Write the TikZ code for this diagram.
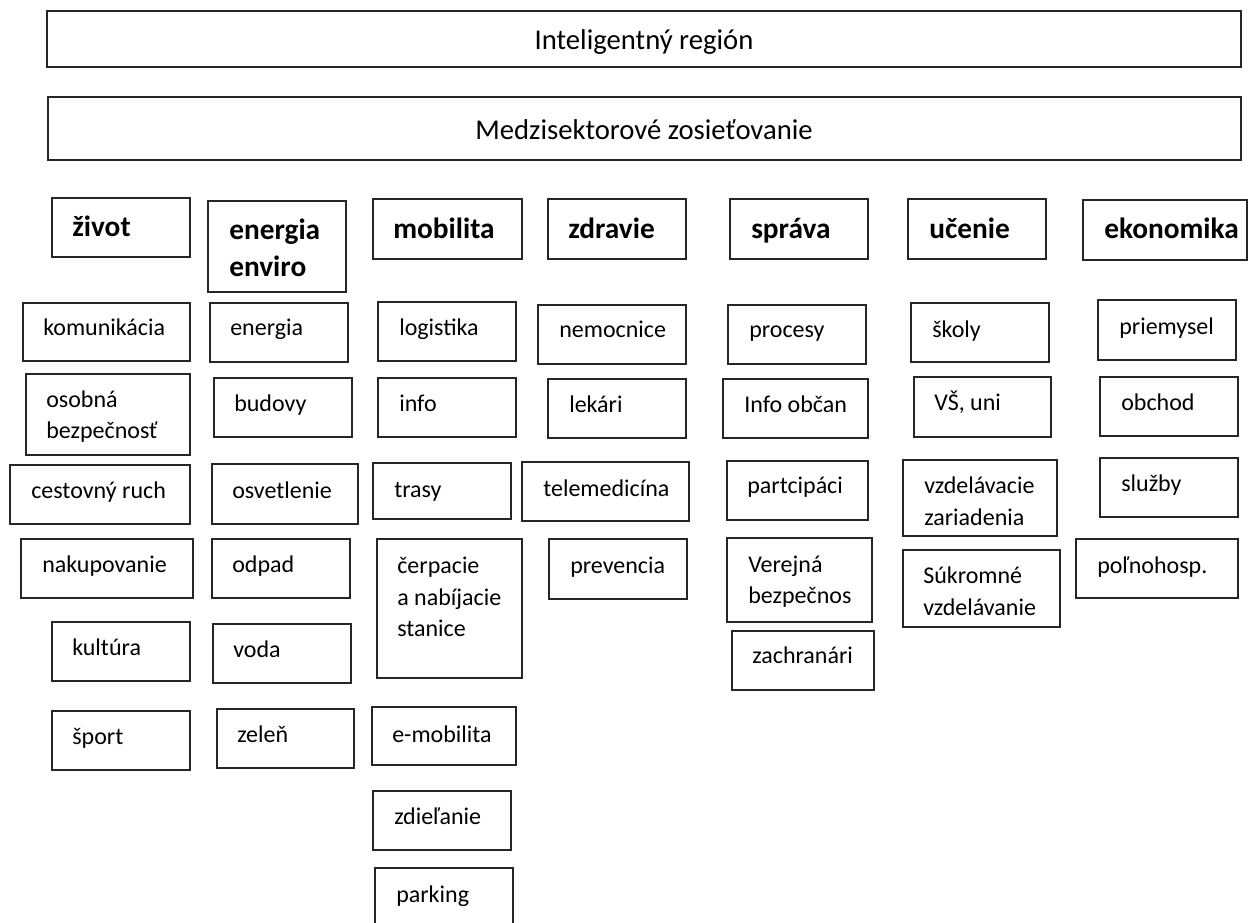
\documentclass[tikz,border=0pt]{standalone}
\usepackage{fontspec}
\setmainfont{Carlito}
\newcommand\bx[5]{\node[box,minimum width={(#4-#2)*0.75pt},minimum height={(#5-#3)*0.75pt}] (#1) at ({(#2+#4)/2},{(#3+#5)/2}) {};}
\begin{document}
\begin{tikzpicture}[x=0.75pt,y=-0.75pt,
  box/.style={draw=black!85,line width=1pt,inner sep=0pt,rectangle},
  txt/.style={anchor=base west,inner sep=0pt,font=\fontsize{18}{22}\selectfont},
  hd/.style={anchor=base west,inner sep=0pt,font=\fontsize{22}{26}\selectfont\bfseries},
  tp/.style={anchor=base,inner sep=0pt,font=\fontsize{21.5}{26}\selectfont}]
\useasboundingbox (0,0) rectangle (1248,922);
% top boxes
\bx{top1}{47}{11}{1241}{67}
\node[tp] (top1t) at (644,49) {Inteligentný región};
\bx{top2}{48}{97}{1241}{160}
\node[tp] (top2t) at (644,139) {Medzisektorové zosieťovanie};
% headers
\bx{h1}{52}{198}{190}{257}   \node[hd] (h1t) at (72,236) {život};
\bx{h2}{208}{201}{346}{292}  \node[hd] (h2t) at (229,239) {energia};
                             \node[hd] (h2u) at (229,276) {enviro};
\bx{h3}{373}{199}{522}{259}  \node[hd] (h3t) at (393,238) {mobilita};
\bx{h4}{548}{199}{686}{259}  \node[hd] (h4t) at (568,238) {zdravie};
\bx{h5}{730}{199}{868}{259}  \node[hd] (h5t) at (751,238) {správa};
\bx{h6}{908}{199}{1046}{259} \node[hd] (h6t) at (929,238) {učenie};
\bx{h7}{1083}{200}{1247}{260} \node[hd] (h7t) at (1104,238) {ekonomika};
% column 1
\bx{a1}{23}{303}{190}{361}  \node[txt] (a1t) at (43,335) {komunikácia};
\bx{a2}{26}{374}{190}{455}  \node[txt] (a2t) at (46,407) {osobná};
                            \node[txt] (a2u) at (46,438) {bezpečnosť};
\bx{a3}{10}{465}{190}{524}  \node[txt] (a3t) at (31,498) {cestovný ruch};
\bx{a4}{21}{539}{193}{598}  \node[txt] (a4t) at (42,572) {nakupovanie};
\bx{a5}{52}{622}{190}{681}  \node[txt] (a5t) at (72,655) {kultúra};
\bx{a6}{52}{711}{190}{770}  \node[txt] (a6t) at (72,744) {šport};
% column 2
\bx{b1}{210}{303}{348}{362} \node[txt] (b1t) at (230,335) {energia};
\bx{b2}{214}{378}{352}{437} \node[txt] (b2t) at (234,411) {budovy};
\bx{b3}{212}{464}{358}{524} \node[txt] (b3t) at (232,498) {osvetlenie};
\bx{b4}{212}{539}{350}{598} \node[txt] (b4t) at (232,572) {odpad};
\bx{b5}{213}{624}{351}{683} \node[txt] (b5t) at (233,657) {voda};
\bx{b6}{217}{709}{354}{768} \node[txt] (b6t) at (237,742) {zeleň};
% column 3
\bx{c1}{378}{302}{516}{361} \node[txt] (c1t) at (399,335) {logistika};
\bx{c2}{378}{378}{516}{437} \node[txt] (c2t) at (399,411) {info};
\bx{c3}{373}{463}{511}{519} \node[txt] (c3t) at (394,497) {trasy};
\bx{c4}{377}{539}{522}{678} \node[txt] (c4t) at (397,573) {čerpacie};
                            \node[txt] (c4u) at (397,605) {a nabíjacie};
                            \node[txt] (c4v) at (397,636) {stanice};
\bx{c5}{372}{707}{516}{765} \node[txt] (c5t) at (392,742) {e-mobilita};
\bx{c6}{373}{791}{511}{850} \node[txt] (c6t) at (394,824) {zdieľanie};
\draw[box] (375,924) |- (513,868) -- (513,924);
\node[txt] (c7t) at (396,902) {parking};
% column 4
\bx{d1}{538}{305}{686}{364} \node[txt] (d1t) at (559,337) {nemocnice};
\bx{d2}{548}{379}{686}{438} \node[txt] (d2t) at (569,412) {lekári};
\bx{d3}{522}{462}{689}{521} \node[txt] (d3t) at (543,496) {telemedicína};
\bx{d4}{549}{539}{687}{599} \node[txt] (d4t) at (570,573) {prevencia};
% column 5
\bx{e1}{728}{305}{866}{364} \node[txt] (e1t) at (749,337) {procesy};
\bx{e2}{723}{379}{868}{438} \node[txt] (e2t) at (744,412) {Info občan};
\bx{e3}{727}{461}{868}{520} \node[txt] (e3t) at (747,493) {partcipáci};
\bx{e4}{727}{538}{872}{622} \node[txt] (e4t) at (748,572) {Verejná};
                            \node[txt] (e4u) at (748,603) {bezpečnos};
\bx{e5}{732}{631}{874}{690} \node[txt] (e5t) at (752,663) {zachranári};
% column 6
\bx{f1}{911}{303}{1049}{362} \node[txt] (f1t) at (932,337) {školy};
\bx{f2}{914}{377}{1051}{437} \node[txt] (f2t) at (934,410) {VŠ, uni};
\bx{f3}{903}{460}{1057}{536} \node[txt] (f3t) at (924,493) {vzdelávacie};
                             \node[txt] (f3u) at (924,525) {zariadenia};
\bx{f4}{903}{550}{1060}{627} \node[txt] (f4t) at (923,583) {Súkromné};
                             \node[txt] (f4u) at (923,615) {vzdelávanie};
% column 7
\bx{g1}{1098}{300}{1236}{360} \node[txt] (g1t) at (1119,334) {priemysel};
\bx{g2}{1100}{377}{1238}{436} \node[txt] (g2t) at (1121,410) {obchod};
\bx{g3}{1100}{458}{1238}{517} \node[txt] (g3t) at (1121,491) {služby};
\bx{g4}{1076}{539}{1238}{598} \node[txt] (g4t) at (1097,573) {poľnohosp.};
\end{tikzpicture}
\end{document}
